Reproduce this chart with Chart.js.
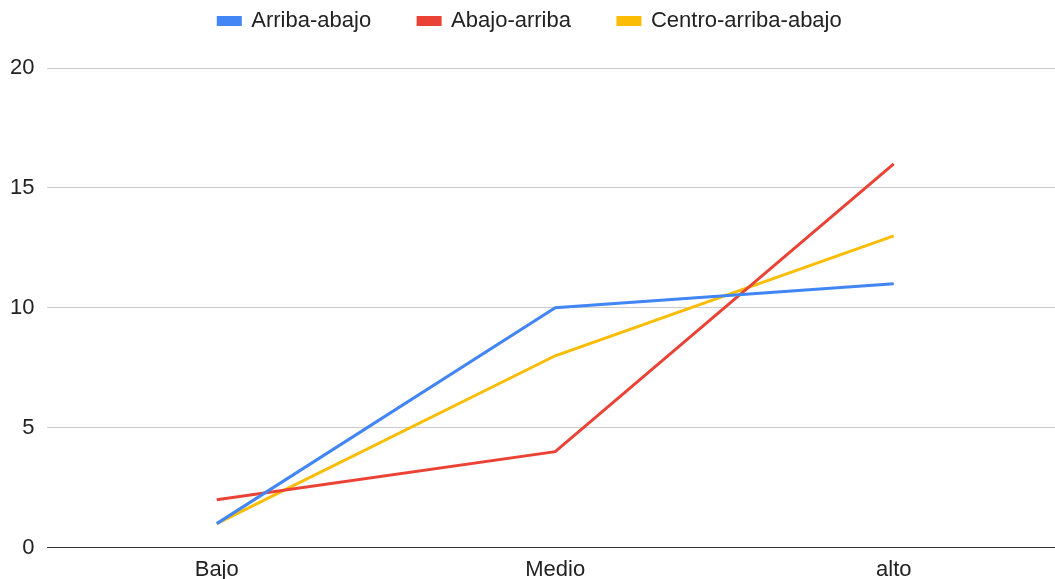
<!DOCTYPE html>
<html>
<head>
<meta charset="utf-8">
<script src="https://cdn.jsdelivr.net/npm/chart.js@4/dist/chart.umd.min.js"></script>
<style>
html,body{margin:0;padding:0;background:#fff;overflow:hidden;width:1055px;height:579px;}
#wrap{position:absolute;left:-3px;top:-37px;width:1066px;height:629px;}
</style>
</head>
<body>
<div id="wrap"><canvas id="c"></canvas></div>
<script>
const categories = ["Bajo", "Medio", "alto"];
const arribaAbajo = [1, 10, 11];
const abajoArriba = [2, 4, 16];
const centroArribaAbajo = [1, 8, 13];
const seriesNames = ["Arriba-abajo", "Abajo-arriba", "Centro-arriba-abajo"];
const yTicks = [0, 5, 10, 15, 20];

const legendMargin = {
  id: 'legendMargin',
  beforeInit(chart) {
    const fit = chart.legend.fit;
    chart.legend.fit = function () {
      fit.bind(chart.legend)();
      this.height += 26;
    };
  }
};

const font = { family: "'Liberation Sans', Arial, sans-serif", size: 22 };

new Chart(document.getElementById('c'), {
  type: 'line',
  data: {
    labels: categories,
    datasets: [
      { label: seriesNames[0], data: arribaAbajo, borderColor: '#4285F4', backgroundColor: '#4285F4' },
      { label: seriesNames[1], data: abajoArriba, borderColor: '#EA4335', backgroundColor: '#EA4335' },
      { label: seriesNames[2], data: centroArribaAbajo, borderColor: '#FBBC04', backgroundColor: '#FBBC04' }
    ].map(d => Object.assign(d, { borderWidth: 3, pointRadius: 0, tension: 0, fill: false }))
  },
  options: {
    responsive: true,
    maintainAspectRatio: false,
    animation: false,
    layout: { padding: { left: 0, right: 0, top: 0, bottom: 0 } },
    plugins: {
      legend: {
        position: 'top',
        labels: {
          font: font,
          color: '#222',
          boxWidth: 22,
          boxHeight: 7,
          padding: 47
        }
      },
      tooltip: { enabled: false }
    },
    scales: {
      x: {
        offset: true,
        grid: { display: false, drawTicks: false },
        border: { display: false },
        ticks: { font: font, color: '#222', padding: 9, maxRotation: 0 }
      },
      y: {
        min: 0,
        max: 20,
        afterBuildTicks(axis) { axis.ticks = yTicks.map(v => ({ value: v })); },
        grid: {
          drawTicks: false,
          color: ctx => ctx.tick && ctx.tick.value === 0 ? '#333' : '#ccc',
          lineWidth: 1
        },
        border: { display: false },
        ticks: { font: font, color: '#222', padding: 13 }
      }
    }
  },
  plugins: [legendMargin]
});
</script>
</body>
</html>
